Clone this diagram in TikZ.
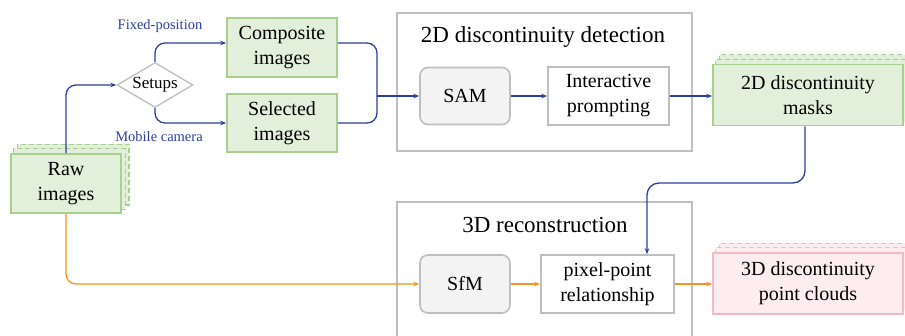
\documentclass[tikz,border=0pt]{standalone}
\usepackage{fontspec}
\setmainfont{Liberation Serif}
\usetikzlibrary{shapes.geometric,arrows.meta,backgrounds}

\definecolor{greenfill}{HTML}{E2EFDA}
\definecolor{greenline}{HTML}{A9D18E}
\definecolor{flowblue}{HTML}{2B3FA3}
\definecolor{floworange}{HTML}{F7941D}
\definecolor{framegray}{HTML}{BFBFBF}
\definecolor{softgray}{HTML}{F3F3F3}
\definecolor{pinkfill}{HTML}{FDEDF0}
\definecolor{pinkline}{HTML}{F5B9C6}

\begin{document}
\begin{tikzpicture}[x=1pt,y=-1pt,
  txt/.style={font=\fontsize{20}{25}\selectfont, align=center, inner sep=0pt},
  greenbox/.style={txt, draw=greenline, fill=greenfill, line width=1.6pt},
  pinkbox/.style={txt, draw=pinkline, fill=pinkfill, line width=1.6pt},
  plainbox/.style={txt, draw=framegray, fill=white, line width=1.6pt},
  softbox/.style={txt, draw=framegray, fill=softgray, line width=1.6pt, rounded corners=8pt},
  frame/.style={draw=framegray, line width=2pt},
  title/.style={font=\fontsize{23}{27}\selectfont, inner sep=0pt},
  lbl/.style={font=\fontsize{14.5}{17}\selectfont, text=flowblue, inner sep=0pt},
  layer/.style={dash pattern=on 5pt off 3pt, line width=1.4pt},
  flow/.style={line width=1.3pt, -{Stealth[length=6pt,width=4.5pt]}, rounded corners=10pt},
  joint/.style={line width=1.3pt, rounded corners=10pt}
]
\useasboundingbox (0,0) rectangle (905,335);
\clip (0,0) rectangle (905,335);

% input and setup choice
\node[greenbox, minimum width=110, minimum height=59] (raw) at (66,183.5) {Raw\\images};
\node[diamond, draw=framegray, fill=white, line width=1.3pt, minimum width=76,
      minimum height=45, inner sep=0pt, font=\fontsize{17}{20}\selectfont] (setups) at (155,85) {\makebox[0pt]{Setups}};
\node[greenbox, minimum width=110, minimum height=59] (comp) at (282,47.5) {Composite\\images};
\node[greenbox, minimum width=110, minimum height=58] (sel) at (282,123) {Selected\\images};
\node[lbl] (fixedlbl) at (160,26) {Fixed-position};
\node[lbl] (mobilelbl) at (159,137) {Mobile camera};

% 2D discontinuity detection
\node[frame, minimum width=295, minimum height=138] (det2d) at (544.5,82) {};
\node[title] (det2dtitle) at (543,37) {2D discontinuity detection};
\node[softbox, minimum width=90, minimum height=57] (sam) at (465,96) {SAM};
\node[plainbox, minimum width=121, minimum height=58] (inter) at (608.5,96) {Interactive\\prompting};
\node[greenbox, minimum width=190, minimum height=61] (masks) at (808,95) {2D discontinuity\\masks};

% 3D reconstruction
\node[frame, minimum width=295, minimum height=140] (rec3d) at (544.5,272) {};
\node[title] (rec3dtitle) at (545,225) {3D reconstruction};
\node[softbox, minimum width=90, minimum height=58] (sfm) at (465,284) {SfM};
\node[plainbox, minimum width=133, minimum height=58] (pix) at (607.5,284) {pixel-point\\relationship};
\node[pinkbox, minimum width=190, minimum height=61] (clouds) at (808,283.5) {3D discontinuity\\point clouds};

% stacked sheets behind the multi-image nodes
\begin{scope}[on background layer]
  \foreach \dx/\dy in {7/9, 3.5/4.5}{
    \draw[layer, draw=greenline, fill=greenfill] ([shift={(\dx pt,\dy pt)}]raw.south west) rectangle ([shift={(\dx pt,\dy pt)}]raw.north east);
    \draw[layer, draw=greenline, fill=greenfill] ([shift={(\dx pt,\dy pt)}]masks.south west) rectangle ([shift={(\dx pt,\dy pt)}]masks.north east);
    \draw[layer, draw=pinkline, fill=pinkfill] ([shift={(\dx pt,\dy pt)}]clouds.south west) rectangle ([shift={(\dx pt,\dy pt)}]clouds.north east);
  }
\end{scope}

% blue flow
\coordinate (merge) at (377,96);
\coordinate (mid) at (0,183);
\coordinate (mdown) at ([xshift=-3pt]masks.south);
\coordinate (pin) at ([xshift=39.5pt]pix.north);
\draw[flow, flowblue] (raw.north) |- (setups.west);
\draw[flow, flowblue] (setups.north) |- ([yshift=4.5pt]comp.west);
\draw[flow, flowblue] (setups.south) |- (sel.west);
\draw[joint, flowblue] ([yshift=4.5pt]comp.east) -| (merge);
\draw[joint, flowblue] (sel.east) -| (merge);
\draw[flow, flowblue, rounded corners=0pt] (merge) -- (sam.west);
\draw[flow, flowblue] (sam.east) -- (inter.west);
\draw[flow, flowblue] (inter.east) -- (inter.east -| masks.west);
\draw[flow, flowblue, rounded corners=12pt] (mdown) -- (mdown |- mid) -- (pin |- mid) -- (pin);

% orange flow
\draw[flow, floworange] (raw.south) |- (sfm.west);
\draw[flow, floworange] (sfm.east) -- (pix.west);
\draw[flow, floworange] (pix.east) -- (pix.east -| clouds.west);
\end{tikzpicture}
\end{document}
